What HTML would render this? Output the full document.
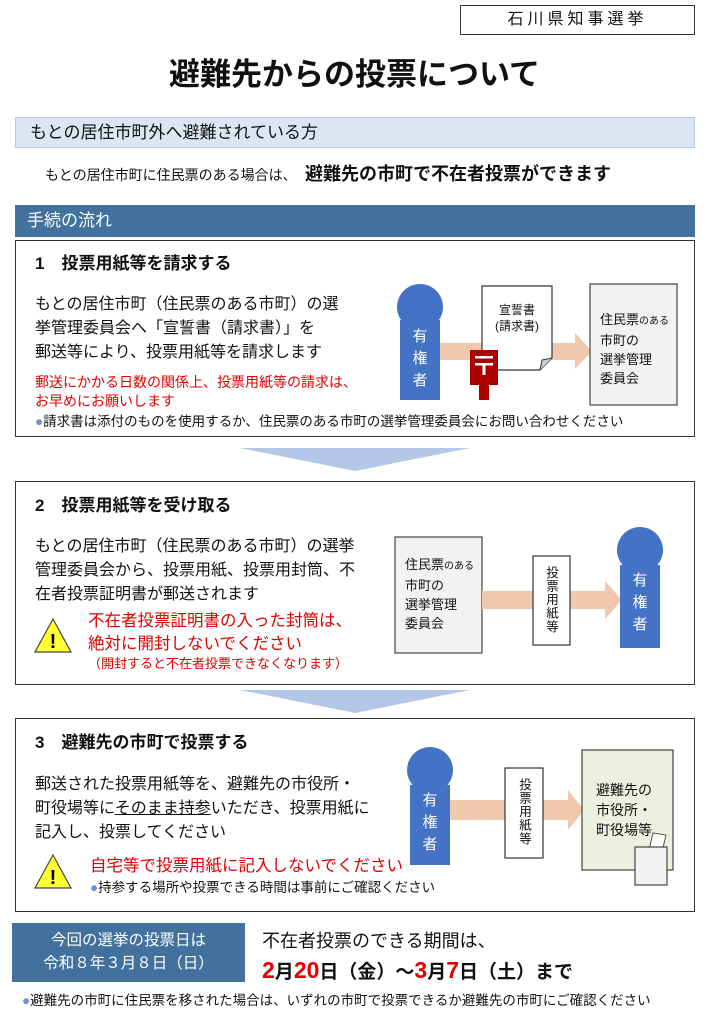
<!DOCTYPE html>
<html><head><meta charset="utf-8"><style>
*{margin:0;padding:0;box-sizing:border-box}
body{width:709px;height:1024px;background:#fff;position:relative;overflow:hidden;font-family:"Liberation Sans","Noto Sans CJK JP",sans-serif;color:#111}
.a{position:absolute;white-space:nowrap}
.box{position:absolute;border:1.5px solid #333;background:transparent}
.red{color:#e00000}
.b{font-weight:bold}
.vt{writing-mode:vertical-rl;text-orientation:upright}
</style></head><body>

<div class="a" style="left:460px;top:5px;width:235px;height:30px;border:1.5px solid #333;text-align:center;font-size:16px;line-height:27px;letter-spacing:4px">石川県知事選挙</div>
<div class="a b" style="left:0;width:709px;top:55px;text-align:center;font-size:31px;line-height:40px">避難先からの投票について</div>

<div class="a" style="left:15px;top:117px;width:680px;height:31px;background:#dce6f2;border:1px solid #b4c7e7;font-size:17px;line-height:29px;padding-left:14px">もとの居住市町外へ避難されている方</div>
<div class="a" style="left:45px;top:164px;font-size:14px;line-height:22px">もとの居住市町に住民票のある場合は、</div>
<div class="a b" style="left:305px;top:161px;font-size:18px;line-height:26px">避難先の市町で不在者投票ができます</div>

<div class="a" style="left:15px;top:205px;width:680px;height:32px;background:#41719c;color:#fff;font-size:17px;line-height:32px;padding-left:12px">手続の流れ</div>

<div class="box" style="left:15px;top:240px;width:680px;height:197px"></div>
<div class="box" style="left:15px;top:481px;width:680px;height:204px"></div>
<div class="box" style="left:15px;top:718px;width:680px;height:194px"></div>

<svg class="a" style="left:0;top:0" width="709" height="1024">
<polygon points="440,343 575,343 575,333 592,351 575,369 575,360 440,360" fill="#f0c8ae"/>
<circle cx="420" cy="307" r="23" fill="#4472c4"/>
<rect x="400" y="320" width="40" height="80" fill="#4472c4"/>
<path d="M482,286 H552 V358 L540,370 H482 Z" fill="#fff" stroke="#333" stroke-width="1.2"/>
<path d="M552,358 L542,360 540,370" fill="#ccc" stroke="#333" stroke-width="1"/>
<rect x="470" y="350" width="28" height="35" fill="#a00"/>
<rect x="479" y="385" width="10" height="15" fill="#a00"/>
<rect x="475" y="356" width="18" height="2.5" fill="#fff"/><rect x="475" y="363" width="18" height="2.5" fill="#fff"/><rect x="482.5" y="363" width="3" height="12" fill="#fff"/>
<rect x="590" y="284" width="87" height="121" fill="#f2f2f2" stroke="#444" stroke-width="1.2"/>
<polygon points="240,448 470,448 355,471" fill="#b4c7e7"/>
<polygon points="240,690 470,690 355,713" fill="#b4c7e7"/>
<polygon points="53,619 71,652 35,652" fill="#ffff33" stroke="#444" stroke-width="1.2"/>
<text x="53" y="648" font-size="20" text-anchor="middle" font-family="Liberation Sans" font-weight="bold">!</text>
<rect x="395" y="537" width="87" height="116" fill="#f2f2f2" stroke="#444" stroke-width="1.2"/>
<polygon points="482,591 605,591 605,581 622,600 605,619 605,609 482,609" fill="#f0c8ae"/>
<rect x="533" y="556" width="37" height="89" fill="#fff" stroke="#333" stroke-width="1.2"/>
<circle cx="640" cy="550" r="23" fill="#4472c4"/>
<rect x="620" y="565" width="40" height="83" fill="#4472c4"/>
<polygon points="53,855 71,888 35,888" fill="#ffff33" stroke="#444" stroke-width="1.2"/>
<text x="53" y="884" font-size="20" text-anchor="middle" font-family="Liberation Sans" font-weight="bold">!</text>
<polygon points="450,800 568,800 568,790 584,810 568,830 568,820 450,820" fill="#f0c8ae"/>
<circle cx="430" cy="770" r="23" fill="#4472c4"/>
<rect x="410" y="785" width="40" height="80" fill="#4472c4"/>
<rect x="505" y="768" width="38" height="90" fill="#fff" stroke="#333" stroke-width="1.2"/>
<rect x="582" y="750" width="91" height="120" fill="#ebf1de" stroke="#444" stroke-width="1.2"/>
<polygon points="653,833 666,835 662,852 649,850" fill="#fff" stroke="#555" stroke-width="1"/>
<rect x="635" y="847" width="32" height="38" fill="#f2f2f2" stroke="#444" stroke-width="1.2"/>
</svg>

<div class="a b" style="left:35px;top:252px;font-size:17px;line-height:24px">1　投票用紙等を請求する</div>
<div class="a" style="left:35px;top:293px;font-size:16px;line-height:24px">もとの居住市町（住民票のある市町）の選<br>挙管理委員会へ「宣誓書（請求書）」を<br>郵送等により、投票用紙等を請求します</div>
<div class="a red" style="left:35px;top:373px;font-size:14px;line-height:19px">郵送にかかる日数の関係上、投票用紙等の請求は、<br>お早めにお願いします</div>
<div class="a" style="left:35px;top:412px;font-size:13.5px;line-height:19px"><span style="color:#6d8fd6">●</span>請求書は添付のものを使用するか、住民票のある市町の選挙管理委員会にお問い合わせください</div>
<div class="a" style="left:400px;top:326px;width:40px;text-align:center;color:#fff;font-size:15px;line-height:22px">有<br>権<br>者</div>
<div class="a" style="left:482px;top:302px;width:70px;text-align:center;font-size:12px;line-height:16px">宣誓書<br>(請求書)</div>
<div class="a" style="left:600px;top:310px;font-size:13px;line-height:19px">住民票<span style="font-size:10px">のある</span><br>市町の<br>選挙管理<br>委員会</div>

<div class="a b" style="left:35px;top:494px;font-size:17px;line-height:24px">2　投票用紙等を受け取る</div>
<div class="a" style="left:35px;top:535px;font-size:16px;line-height:24px">もとの居住市町（住民票のある市町）の選挙<br>管理委員会から、投票用紙、投票用封筒、不<br>在者投票証明書が郵送されます</div>
<div class="a red" style="left:88px;top:610px;font-size:16.5px;line-height:23px">不在者投票証明書の入った封筒は、<br>絶対に開封しないでください</div>
<div class="a red" style="left:88px;top:655px;font-size:13px;line-height:18px">（開封すると不在者投票できなくなります）</div>
<div class="a" style="left:405px;top:555px;font-size:13px;line-height:19px">住民票<span style="font-size:10px">のある</span><br>市町の<br>選挙管理<br>委員会</div>
<div class="a vt" style="left:541px;top:566px;font-size:12.5px;line-height:20px;letter-spacing:1px">投票用紙等</div>
<div class="a" style="left:620px;top:570px;width:40px;text-align:center;color:#fff;font-size:15px;line-height:22px">有<br>権<br>者</div>

<div class="a b" style="left:35px;top:731px;font-size:17px;line-height:24px">3　避難先の市町で投票する</div>
<div class="a" style="left:35px;top:773px;font-size:16px;line-height:24px">郵送された投票用紙等を、避難先の市役所・<br>町役場等に<u>そのまま持参</u>いただき、投票用紙に<br>記入し、投票してください</div>
<div class="a red" style="left:90px;top:855px;font-size:16.5px;line-height:23px">自宅等で投票用紙に記入しないでください</div>
<div class="a" style="left:90px;top:878px;font-size:13.5px;line-height:19px"><span style="color:#6d8fd6">●</span>持参する場所や投票できる時間は事前にご確認ください</div>
<div class="a" style="left:410px;top:790px;width:40px;text-align:center;color:#fff;font-size:15px;line-height:22px">有<br>権<br>者</div>
<div class="a vt" style="left:514px;top:778px;font-size:12.5px;line-height:20px;letter-spacing:1px">投票用紙等</div>
<div class="a" style="left:596px;top:780px;font-size:14px;line-height:20px">避難先の<br>市役所・<br>町役場等</div>

<div class="a" style="left:12px;top:923px;width:233px;height:59px;background:#41719c;color:#fff;text-align:center;font-size:15.5px;line-height:23px;padding-top:6px">今回の選挙の投票日は<br>令和８年３月８日（日）</div>
<div class="a" style="left:262px;top:928px;font-size:18px;line-height:26px">不在者投票のできる期間は、</div>
<div class="a b" style="left:262px;top:955px;font-size:19px;line-height:30px"><span class="red" style="font-size:23px">2</span>月<span class="red" style="font-size:23px">20</span>日（金）～<span class="red" style="font-size:23px">3</span>月<span class="red" style="font-size:23px">7</span>日（土）まで</div>
<div class="a" style="left:22px;top:991px;font-size:13.5px;line-height:19px"><span style="color:#6d8fd6">●</span>避難先の市町に住民票を移された場合は、いずれの市町で投票できるか避難先の市町にご確認ください</div>
</body></html>
